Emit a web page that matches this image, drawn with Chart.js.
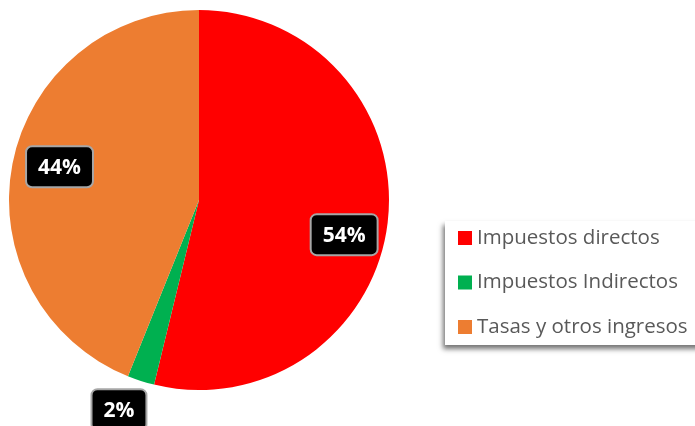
<!DOCTYPE html>
<html>
<head>
<meta charset="utf-8">
<script src="https://cdn.jsdelivr.net/npm/chart.js@4/dist/chart.umd.min.js"></script>
<style>
html,body{margin:0;padding:0;background:#fff;}
#wrap{width:695px;height:426px;position:relative;}
</style>
</head>
<body>
<div id="wrap"><canvas id="c" width="695" height="426"></canvas></div>
<script>
const categories = ["Impuestos directos", "Impuestos Indirectos", "Tasas y otros ingresos"];
const values = [53.8, 2.3, 43.9];
const percentLabels = ["54%", "2%", "44%"];
const colors = ["#FF0000", "#00B050", "#ED7D31"];

const labelPlugin = {
  id: 'pctLabels',
  afterDatasetsDraw(chart) {
    const ctx = chart.ctx;
    const meta = chart.getDatasetMeta(0);
    const nudge = [[-2, 3], [-12, -2], [6, -5]];
    ctx.save();
    ctx.font = 'bold 21px "Open Sans", sans-serif';
    ctx.textAlign = 'center';
    ctx.textBaseline = 'middle';
    meta.data.forEach((arc, i) => {
      const p = arc.getProps(['x','y','startAngle','endAngle','outerRadius'], true);
      const mid = (p.startAngle + p.endAngle) / 2;
      const small = values[i] < 5;
      const rr = p.outerRadius * (small ? 1.17 : 0.78);
      const cx = p.x + Math.cos(mid) * rr + nudge[i][0];
      const cy = p.y + Math.sin(mid) * rr + nudge[i][1] + (i === 0 ? 14 : 0);
      const text = percentLabels[i];
      const tw = ctx.measureText(text).width;
      const w = tw + 24, h = 41;
      const x = cx - w / 2, y = cy - h / 2;
      ctx.beginPath();
      ctx.roundRect(x, y, w, h, 6);
      ctx.fillStyle = '#000';
      ctx.fill();
      ctx.lineWidth = 2;
      ctx.strokeStyle = '#A6A6A6';
      ctx.stroke();
      ctx.fillStyle = '#fff';
      ctx.fillText(text, cx, cy + 1);
    });
    ctx.restore();
  }
};

const legendPlugin = {
  id: 'boxLegend',
  afterDraw(chart) {
    const ctx = chart.ctx;
    ctx.save();
    const bx = 445, by = 221, bw = 260, bh = 124;
    ctx.shadowColor = 'rgba(0,0,0,0.55)';
    ctx.shadowBlur = 5;
    ctx.shadowOffsetX = -2;
    ctx.shadowOffsetY = 4;
    ctx.fillStyle = '#fff';
    ctx.fillRect(bx, by, bw, bh);
    ctx.shadowColor = 'transparent';
    ctx.font = '20.5px "Open Sans", sans-serif';
    ctx.textBaseline = 'middle';
    ctx.textAlign = 'left';
    categories.forEach((c, i) => {
      const cy = 238 + i * 44.5;
      ctx.fillStyle = colors[i];
      ctx.fillRect(458, cy - 7, 14, 14);
      ctx.fillStyle = '#595959';
      ctx.fillText(c, 477, cy);
    });
    ctx.restore();
  }
};

new Chart(document.getElementById('c'), {
  type: 'pie',
  data: {
    labels: categories,
    datasets: [{
      data: values,
      backgroundColor: colors,
      borderWidth: 0
    }]
  },
  options: {
    responsive: false,
    animation: false,
    layout: { padding: { left: 9, top: 10, right: 306, bottom: 36 } },
    plugins: { legend: { display: false }, tooltip: { enabled: false } }
  },
  plugins: [labelPlugin, legendPlugin]
});
</script>
</body>
</html>
